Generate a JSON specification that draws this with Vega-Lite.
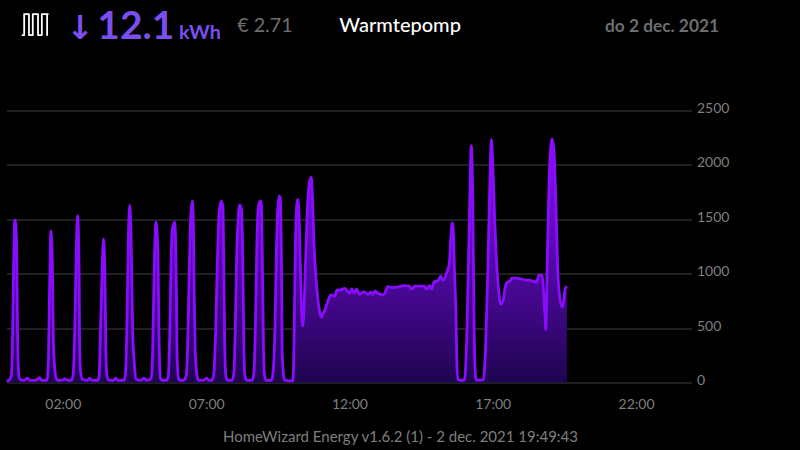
{"$schema":"https://vega.github.io/schema/vega-lite/v6.json","width":685,"height":272,"autosize":"none","padding":{"left":6.5,"top":110.5,"right":108.5,"bottom":67.5},"background":"#000000","config":{"view":{"stroke":null},"font":"Lato"},
"datasets":{"power":[
{"t":"00:00","v":15},{"t":"00:03","v":15},{"t":"00:07","v":30},{"t":"00:10","v":60},{"t":"00:12","v":250},{"t":"00:14","v":800},{"t":"00:17","v":1480},{"t":"00:18","v":1495},{"t":"00:21","v":1300},{"t":"00:23","v":500},{"t":"00:25","v":110},{"t":"00:28","v":30},{"t":"00:36","v":20},{"t":"00:44","v":40},{"t":"00:49","v":20},{"t":"01:01","v":20},{"t":"01:09","v":45},{"t":"01:14","v":20},{"t":"01:24","v":20},{"t":"01:26","v":60},{"t":"01:28","v":250},{"t":"01:30","v":800},{"t":"01:33","v":1394},{"t":"01:36","v":1100},{"t":"01:38","v":400},{"t":"01:41","v":130},{"t":"01:44","v":40},{"t":"01:47","v":20},{"t":"01:58","v":25},{"t":"02:02","v":35},{"t":"02:08","v":20},{"t":"02:17","v":25},{"t":"02:20","v":100},{"t":"02:23","v":500},{"t":"02:26","v":1200},{"t":"02:29","v":1532},{"t":"02:32","v":1000},{"t":"02:33","v":350},{"t":"02:35","v":100},{"t":"02:39","v":30},{"t":"02:50","v":20},{"t":"02:54","v":40},{"t":"02:59","v":20},{"t":"03:11","v":20},{"t":"03:14","v":60},{"t":"03:16","v":350},{"t":"03:20","v":1000},{"t":"03:23","v":1320},{"t":"03:26","v":1000},{"t":"03:28","v":300},{"t":"03:30","v":70},{"t":"03:33","v":25},{"t":"03:43","v":20},{"t":"03:49","v":40},{"t":"03:53","v":20},{"t":"04:06","v":20},{"t":"04:09","v":80},{"t":"04:12","v":500},{"t":"04:15","v":1300},{"t":"04:18","v":1630},{"t":"04:21","v":1300},{"t":"04:24","v":500},{"t":"04:28","v":150},{"t":"04:31","v":30},{"t":"04:41","v":20},{"t":"04:48","v":40},{"t":"04:54","v":20},{"t":"05:00","v":25},{"t":"05:04","v":70},{"t":"05:06","v":300},{"t":"05:09","v":1000},{"t":"05:13","v":1477},{"t":"05:17","v":1200},{"t":"05:19","v":500},{"t":"05:21","v":100},{"t":"05:23","v":30},{"t":"05:27","v":20},{"t":"05:36","v":20},{"t":"05:39","v":80},{"t":"05:42","v":500},{"t":"05:45","v":1200},{"t":"05:47","v":1400},{"t":"05:52","v":1474},{"t":"05:54","v":1300},{"t":"05:56","v":750},{"t":"05:57","v":250},{"t":"06:00","v":40},{"t":"06:02","v":20},{"t":"06:11","v":20},{"t":"06:16","v":60},{"t":"06:19","v":300},{"t":"06:22","v":900},{"t":"06:26","v":1550},{"t":"06:29","v":1667},{"t":"06:31","v":1500},{"t":"06:33","v":800},{"t":"06:35","v":300},{"t":"06:39","v":60},{"t":"06:42","v":20},{"t":"06:53","v":22},{"t":"06:59","v":40},{"t":"07:04","v":20},{"t":"07:10","v":20},{"t":"07:14","v":80},{"t":"07:18","v":500},{"t":"07:22","v":1200},{"t":"07:25","v":1550},{"t":"07:29","v":1667},{"t":"07:33","v":1620},{"t":"07:35","v":1000},{"t":"07:37","v":300},{"t":"07:39","v":70},{"t":"07:42","v":20},{"t":"07:52","v":20},{"t":"07:56","v":90},{"t":"07:59","v":500},{"t":"08:02","v":1200},{"t":"08:05","v":1500},{"t":"08:08","v":1630},{"t":"08:12","v":1590},{"t":"08:15","v":1000},{"t":"08:17","v":300},{"t":"08:19","v":70},{"t":"08:23","v":20},{"t":"08:34","v":20},{"t":"08:38","v":90},{"t":"08:41","v":500},{"t":"08:44","v":1250},{"t":"08:47","v":1600},{"t":"08:50","v":1660},{"t":"08:53","v":1670},{"t":"08:56","v":1000},{"t":"08:58","v":300},{"t":"09:00","v":70},{"t":"09:03","v":20},{"t":"09:15","v":20},{"t":"09:18","v":90},{"t":"09:22","v":500},{"t":"09:25","v":1200},{"t":"09:28","v":1600},{"t":"09:31","v":1715},{"t":"09:33","v":1700},{"t":"09:36","v":900},{"t":"09:37","v":300},{"t":"09:40","v":70},{"t":"09:43","v":20},{"t":"09:59","v":15},{"t":"10:01","v":150},{"t":"10:03","v":700},{"t":"10:05","v":1300},{"t":"10:08","v":1650},{"t":"10:10","v":1683},{"t":"10:13","v":1450},{"t":"10:15","v":1100},{"t":"10:17","v":750},{"t":"10:20","v":518},{"t":"10:23","v":700},{"t":"10:26","v":1100},{"t":"10:29","v":1500},{"t":"10:32","v":1750},{"t":"10:35","v":1860},{"t":"10:38","v":1885},{"t":"10:40","v":1750},{"t":"10:44","v":1250},{"t":"10:48","v":950},{"t":"10:52","v":760},{"t":"10:56","v":640},{"t":"11:00","v":600},{"t":"11:02","v":630},{"t":"11:06","v":660},{"t":"11:10","v":710},{"t":"11:16","v":785},{"t":"11:19","v":806},{"t":"11:27","v":793},{"t":"11:32","v":850},{"t":"11:38","v":848},{"t":"11:48","v":865},{"t":"11:58","v":820},{"t":"12:03","v":860},{"t":"12:08","v":820},{"t":"12:13","v":860},{"t":"12:19","v":810},{"t":"12:28","v":835},{"t":"12:37","v":810},{"t":"12:43","v":830},{"t":"12:47","v":810},{"t":"12:52","v":843},{"t":"12:57","v":820},{"t":"13:08","v":806},{"t":"13:12","v":820},{"t":"13:18","v":880},{"t":"13:27","v":875},{"t":"13:35","v":875},{"t":"13:41","v":880},{"t":"13:52","v":890},{"t":"14:02","v":888},{"t":"14:08","v":860},{"t":"14:15","v":885},{"t":"14:27","v":885},{"t":"14:34","v":885},{"t":"14:40","v":860},{"t":"14:46","v":890},{"t":"14:50","v":858},{"t":"14:55","v":925},{"t":"15:03","v":935},{"t":"15:09","v":977},{"t":"15:14","v":940},{"t":"15:22","v":1015},{"t":"15:27","v":1095},{"t":"15:30","v":1310},{"t":"15:33","v":1468},{"t":"15:35","v":1430},{"t":"15:38","v":1000},{"t":"15:40","v":760},{"t":"15:41","v":600},{"t":"15:43","v":150},{"t":"15:45","v":25},{"t":"15:58","v":20},{"t":"16:00","v":60},{"t":"16:04","v":480},{"t":"16:10","v":1707},{"t":"16:13","v":2178},{"t":"16:16","v":1707},{"t":"16:19","v":480},{"t":"16:22","v":52},{"t":"16:24","v":22},{"t":"16:38","v":22},{"t":"16:43","v":330},{"t":"16:48","v":1095},{"t":"16:52","v":1860},{"t":"16:55","v":2234},{"t":"16:58","v":2010},{"t":"17:02","v":1490},{"t":"17:06","v":1095},{"t":"17:11","v":820},{"t":"17:14","v":720},{"t":"17:17","v":730},{"t":"17:20","v":757},{"t":"17:23","v":850},{"t":"17:27","v":916},{"t":"17:34","v":935},{"t":"17:38","v":960},{"t":"17:46","v":960},{"t":"18:05","v":944},{"t":"18:20","v":935},{"t":"18:30","v":922},{"t":"18:34","v":985},{"t":"18:40","v":990},{"t":"18:43","v":925},{"t":"18:47","v":635},{"t":"18:49","v":488},{"t":"18:52","v":1095},{"t":"18:56","v":1860},{"t":"19:02","v":2240},{"t":"19:06","v":2135},{"t":"19:10","v":1650},{"t":"19:14","v":1035},{"t":"19:18","v":788},{"t":"19:23","v":696},{"t":"19:26","v":730},{"t":"19:29","v":850},{"t":"19:33","v":885}
],
"icon":[{"i":0,"t":"00:32","v":3193},{"i":1,"t":"00:37","v":3193},{"i":2,"t":"00:37","v":3386},{"i":3,"t":"00:47","v":3386},{"i":4,"t":"00:47","v":3193},{"i":5,"t":"00:55","v":3193},{"i":6,"t":"00:55","v":3386},{"i":7,"t":"01:06","v":3386},{"i":8,"t":"01:06","v":3193},{"i":9,"t":"01:14","v":3193},{"i":10,"t":"01:14","v":3386},{"i":11,"t":"01:25","v":3386},{"i":12,"t":"01:25","v":3193},{"i":13,"t":"01:25","v":3386},{"i":14,"t":"01:28","v":3386}],
"one":[{"row":1}]},
"layer":[
{"data":{"name":"power","format":{"parse":{"t":"utc:'%H:%M'"}}},"mark":{"type":"area","interpolate":"monotone","opacity":1,"line":{"color":"#8a0cff","strokeWidth":2.8},"color":{"gradient":"linear","x1":1,"y1":0,"x2":1,"y2":1,"stops":[{"offset":0,"color":"#8a0cff"},{"offset":1,"color":"#1f0550"}]}},
"encoding":{"x":{"field":"t","type":"temporal","title":"HomeWizard Energy v1.6.2 (1) - 2 dec. 2021 19:49:43","scale":{"type":"utc","domain":[{"year":1900,"month":1,"date":1,"hours":0,"minutes":0,"utc":true},{"year":1900,"month":1,"date":1,"hours":23,"minutes":54,"utc":true}]},
"axis":{"values":[{"year":1900,"month":1,"date":1,"hours":2,"utc":true},{"year":1900,"month":1,"date":1,"hours":7,"utc":true},{"year":1900,"month":1,"date":1,"hours":12,"utc":true},{"year":1900,"month":1,"date":1,"hours":17,"utc":true},{"year":1900,"month":1,"date":1,"hours":22,"utc":true}],"format":"%H:%M","grid":false,"domain":false,"ticks":false,"labelFont":"Lato","labelFontSize":14,"labelColor":"#7f7f7f","labelPadding":15,"labelOffset":-1,"titleFont":"Lato","titleFontSize":15,"titleFontWeight":"normal","titleColor":"#7f7f7f","titleX":393.5,"titleY":54,"titleBaseline":"middle","titleAnchor":"middle"}},
"y":{"field":"v","type":"quantitative","scale":{"domain":[0,2500],"nice":false},"axis":{"orient":"right","values":[0,500,1000,1500,2000,2500],"format":"d","grid":true,"gridColor":"#2b2b2b","gridWidth":1.5,"domain":false,"ticks":false,"labelFont":"Lato","labelFontSize":14,"labelColor":"#7f7f7f","labelPadding":5,"labelOffset":-2,"title":null}}}},
{"data":{"name":"icon","format":{"parse":{"t":"utc:'%H:%M'"}}},"mark":{"type":"line","color":"#ffffff","strokeWidth":1.8,"strokeJoin":"round","interpolate":"linear"},"encoding":{"x":{"field":"t","type":"temporal","title":"HomeWizard Energy v1.6.2 (1) - 2 dec. 2021 19:49:43"},"y":{"field":"v","type":"quantitative","title":null},"order":{"field":"i","type":"ordinal"}}},
{"data":{"name":"one"},"mark":{"type":"text","align":"center","baseline":"alphabetic","fontSize":33,"font":"DejaVu Sans","fontWeight":"bold","color":"#7b4fef"},"encoding":{"x":{"datum":{"year":1900,"month":1,"date":1,"hours":2,"minutes":34,"utc":true},"type":"temporal","title":"HomeWizard Energy v1.6.2 (1) - 2 dec. 2021 19:49:43"},"y":{"datum":3160,"type":"quantitative","title":null},"text":{"value":"↓"}}},
{"data":{"name":"one"},"mark":{"type":"text","align":"left","baseline":"alphabetic","fontSize":39,"fontWeight":"bold","font":"Lato","color":"#7b4fef"},"encoding":{"x":{"datum":{"year":1900,"month":1,"date":1,"hours":3,"minutes":10,"utc":true},"type":"temporal","title":"HomeWizard Energy v1.6.2 (1) - 2 dec. 2021 19:49:43"},"y":{"datum":3156,"type":"quantitative","title":null},"text":{"value":"12.1"}}},
{"data":{"name":"one"},"mark":{"type":"text","align":"left","baseline":"alphabetic","fontSize":19.8,"fontWeight":"bold","font":"Lato","color":"#7b4fef"},"encoding":{"x":{"datum":{"year":1900,"month":1,"date":1,"hours":6,"minutes":1,"utc":true},"type":"temporal","title":"HomeWizard Energy v1.6.2 (1) - 2 dec. 2021 19:49:43"},"y":{"datum":3156,"type":"quantitative","title":null},"text":{"value":"kWh"}}},
{"data":{"name":"one"},"mark":{"type":"text","align":"left","baseline":"alphabetic","fontSize":19.7,"font":"Lato","color":"#6f6f6f"},"encoding":{"x":{"datum":{"year":1900,"month":1,"date":1,"hours":8,"minutes":3,"utc":true},"type":"temporal","title":"HomeWizard Energy v1.6.2 (1) - 2 dec. 2021 19:49:43"},"y":{"datum":3220,"type":"quantitative","title":null},"text":{"value":"€ 2.71"}}},
{"data":{"name":"one"},"mark":{"type":"text","align":"center","baseline":"alphabetic","fontSize":20,"fontWeight":500,"font":"Lato","color":"#ffffff"},"encoding":{"x":{"datum":{"year":1900,"month":1,"date":1,"hours":13,"minutes":44,"utc":true},"type":"temporal","title":"HomeWizard Energy v1.6.2 (1) - 2 dec. 2021 19:49:43"},"y":{"datum":3220,"type":"quantitative","title":null},"text":{"value":"Warmtepomp"}}},
{"data":{"name":"one"},"mark":{"type":"text","align":"left","baseline":"alphabetic","fontSize":17.3,"fontWeight":"bold","font":"Lato","color":"#6e6e6e"},"encoding":{"x":{"datum":{"year":1900,"month":1,"date":1,"hours":20,"minutes":53,"utc":true},"type":"temporal","title":"HomeWizard Energy v1.6.2 (1) - 2 dec. 2021 19:49:43"},"y":{"datum":3220,"type":"quantitative","title":null},"text":{"value":"do 2 dec. 2021"}}}
]}
